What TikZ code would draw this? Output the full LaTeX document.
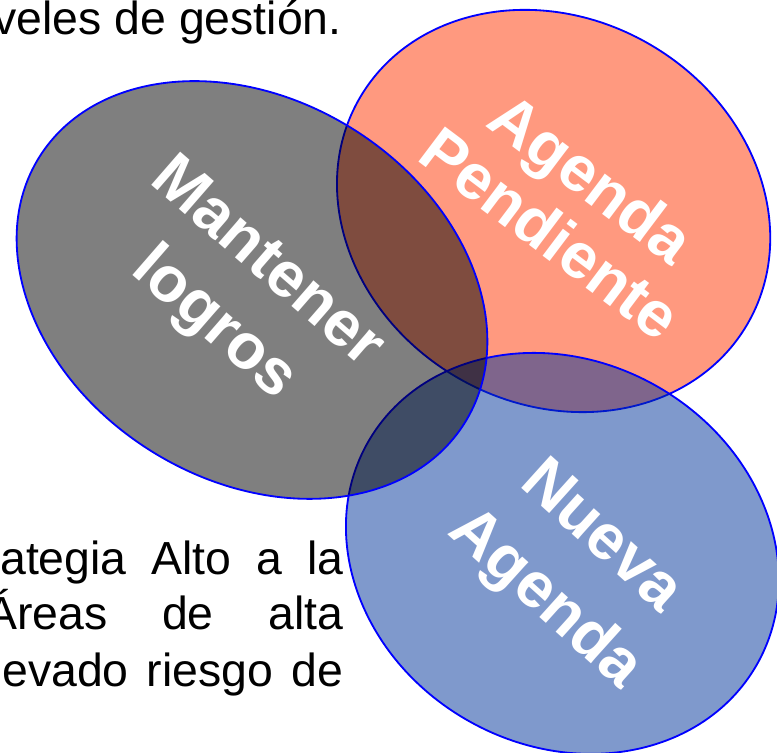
\documentclass[tikz,border=0pt]{standalone}
\usepackage{fontspec}
\setmainfont{Liberation Sans}
\usepackage{tikz}

\definecolor{rojo}{RGB}{255,51,0}
\definecolor{azul}{RGB}{0,51,153}
\tikzset{
	conjunto/.style={draw=blue, line width=1.3pt, fill opacity=0.5},
	etiqueta/.style={text=white, align=center, inner sep=0pt},
	cuerpo/.style={inner sep=0pt, font=\fontsize{33}{40}\selectfont}
}

\begin{document}
\begin{tikzpicture}[]
	%\draw[help lines] (0,0) grid (19,18);
	\useasboundingbox (0,0) rectangle (19.425,18.825);
	\clip (0,0) rectangle (19.425,18.825);
	\coordinate (cPendiente) at (13.84,13.55);
	\coordinate (cNueva) at (14.06,4.99);
	\coordinate (cLogros) at (6.30,11.575);
	\draw[conjunto, fill=rojo, rotate around={-30.5:(cPendiente)}] (cPendiente) ellipse [x radius=5.61, y radius=4.81];
	\draw[conjunto, fill=azul, rotate around={-30:(cNueva)}] (cNueva) ellipse [x radius=5.6, y radius=4.8];
	\draw[conjunto, fill=black, rotate around={-32:(cLogros)}] (cLogros) ellipse [x radius=6.27, y radius=4.75];
	\node[etiqueta, rotate=-41, font=\fontsize{45.5}{57.4}\selectfont\bfseries] (logros) at (5.985,11.455) {Mantener\\logros};
	\node[etiqueta, rotate=-37, font=\fontsize{45.5}{49}\selectfont\bfseries] (pendiente) at (14.29,13.69) {Agenda\\Pendiente};
	\node[etiqueta, rotate=-42, font=\fontsize{45.5}{59.5}\selectfont\bfseries] (nueva) at (14.30,4.58) {Nueva\\Agenda};
	\node[cuerpo, anchor=base east] (gestion) at (8.55,17.95) {veles de gestión.};
	\node[cuerpo, anchor=base west] (linea1) at (0,4.45) {\makebox[8.575cm][s]{ategia Alto a la}};
	\node[cuerpo, anchor=base west] (linea2) at (-0.35,3.075) {\makebox[8.925cm][s]{Áreas de alta}};
	\node[cuerpo, anchor=base west] (linea3) at (0.05,1.65) {\makebox[8.525cm][s]{evado riesgo de}};
\end{tikzpicture}
\end{document}
